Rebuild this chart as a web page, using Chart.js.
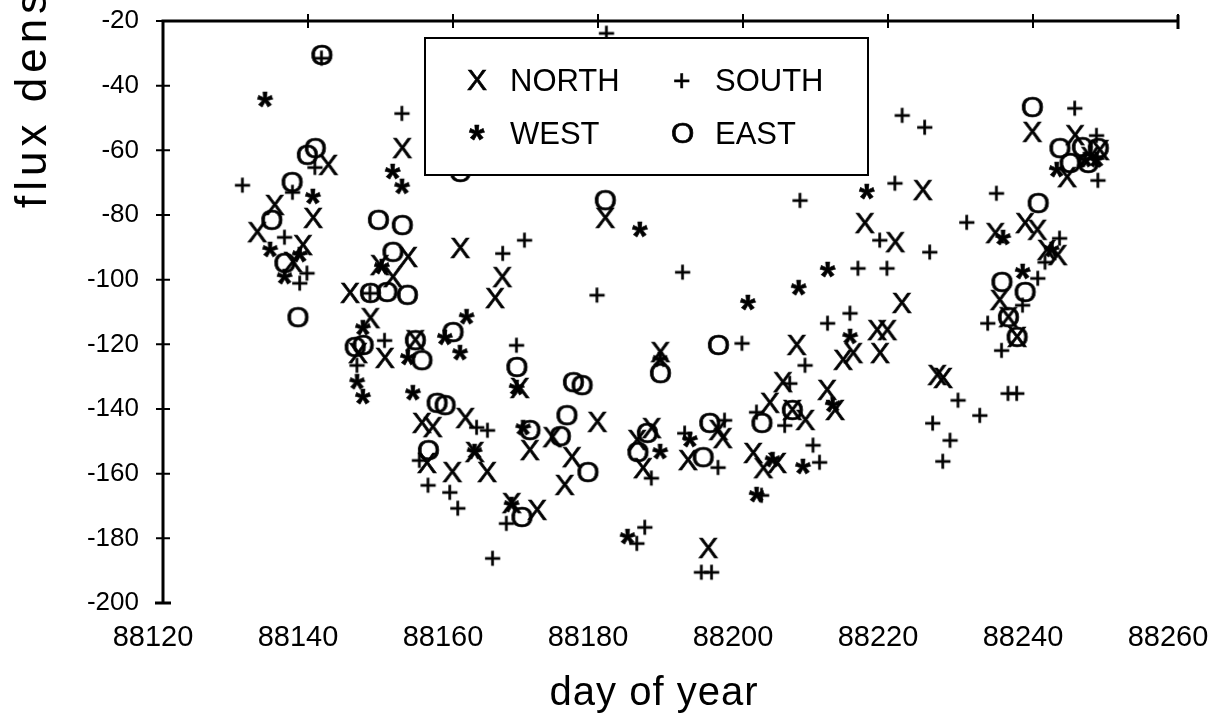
<!DOCTYPE html>
<html>
<head>
<meta charset="utf-8">
<script src="https://cdn.jsdelivr.net/npm/chart.js@4.4.1/dist/chart.umd.min.js"></script>
<style>
  html, body { margin: 0; padding: 0; background: #fff; }
  canvas { display: block; }
</style>
</head>
<body>
<canvas id="flux" width="1231" height="717"></canvas>
<script>
const FONT = '"Liberation Sans", Arial, Helvetica, sans-serif';

const xTicks = [88120, 88140, 88160, 88180, 88200, 88220, 88240, 88260];
const yTicks = [-200, -180, -160, -140, -120, -100, -80, -60, -40, -20];

// [day, flux] pairs per antenna direction
const north = [
  [88133.0, -85.3], [88135.4, -76.9], [88137.9, -94.5], [88139.3, -89.3], [88140.7, -80.9], [88142.8, -64.5],
  [88145.8, -104.1], [88146.9, -122.7], [88148.6, -111.9], [88149.9, -95.5], [88150.6, -124.2], [88151.7, -99.2],
  [88153.0, -59.3], [88153.8, -93.0], [88154.8, -118.7], [88155.7, -144.3], [88156.4, -156.7], [88157.2, -145.6],
  [88159.9, -159.5], [88161.0, -90.2], [88161.7, -142.8], [88163.0, -153.3], [88164.7, -159.5], [88165.8, -105.7],
  [88166.8, -99.2], [88168.1, -169.1], [88169.2, -133.5], [88170.6, -152.7], [88171.6, -171.2], [88173.7, -148.7],
  [88175.4, -163.5], [88176.4, -154.9], [88179.9, -144.0], [88181.0, -80.9], [88185.4, -149.6], [88186.2, -158.3],
  [88187.4, -145.9], [88188.6, -122.4], [88192.4, -155.8], [88195.2, -183.0], [88196.6, -146.5], [88197.2, -149.0],
  [88201.4, -153.6], [88202.8, -158.3], [88203.7, -138.1], [88204.7, -156.7], [88205.5, -131.7], [88206.8, -140.3],
  [88207.4, -120.2], [88208.6, -143.4], [88211.6, -134.1], [88212.7, -140.3], [88213.8, -124.8], [88215.2, -122.7],
  [88216.8, -82.5], [88218.5, -115.6], [88218.9, -122.7], [88219.9, -115.6], [88221.0, -88.4], [88221.9, -107.2],
  [88224.8, -72.3], [88226.8, -129.5], [88227.6, -130.4], [88234.8, -85.6], [88235.4, -106.3], [88236.6, -111.6],
  [88237.8, -117.7], [88238.9, -82.5], [88239.9, -54.3], [88240.6, -84.6], [88241.9, -90.8], [88243.4, -92.4],
  [88244.7, -68.3], [88245.8, -55.3], [88247.9, -62.1], [88249.2, -59.9]
];

const south = [
  [88131.0, -70.7], [88136.8, -86.8], [88137.9, -72.9], [88138.9, -101.0], [88139.9, -97.9], [88141.0, -65.2],
  [88141.9, -31.4], [88146.8, -126.4], [88148.6, -104.1], [88150.6, -118.7], [88153.0, -48.5], [88155.4, -155.8],
  [88156.6, -163.5], [88159.6, -165.7], [88160.7, -170.6], [88163.3, -145.6], [88164.8, -146.5], [88165.5, -186.1],
  [88166.9, -91.8], [88167.4, -175.3], [88168.8, -120.2], [88169.9, -87.7], [88179.9, -104.7], [88181.2, -23.7],
  [88185.4, -181.5], [88186.5, -176.5], [88187.4, -161.3], [88191.7, -97.6], [88192.0, -147.4], [88194.3, -190.4],
  [88195.7, -190.4], [88196.6, -158.0], [88197.5, -143.4], [88199.9, -119.6], [88201.9, -140.9], [88202.6, -166.6],
  [88205.8, -145.0], [88206.5, -132.0], [88207.9, -75.4], [88208.6, -126.4], [88209.7, -151.1], [88210.6, -156.4],
  [88211.7, -113.4], [88214.8, -110.3], [88215.9, -96.4], [88218.9, -87.7], [88219.9, -96.4], [88221.0, -70.1],
  [88222.0, -49.1], [88225.1, -52.8], [88225.8, -91.4], [88226.2, -144.3], [88227.6, -156.1], [88228.6, -149.6],
  [88229.7, -137.2], [88230.9, -82.2], [88232.7, -141.9], [88233.8, -113.4], [88235.0, -73.2], [88235.7, -121.8],
  [88236.6, -135.1], [88237.8, -135.1], [88238.6, -107.8], [88240.7, -99.5], [88241.7, -94.5], [88243.7, -87.1],
  [88245.8, -46.9], [88248.8, -55.3], [88249.0, -69.2]
];

const west = [
  [88134.1, -44.4], [88134.8, -90.8], [88136.8, -99.2], [88138.9, -92.4], [88140.7, -74.4], [88146.8, -131.7],
  [88147.6, -115.0], [88147.6, -136.3], [88150.2, -96.1], [88151.7, -66.7], [88153.0, -71.3], [88153.8, -124.2],
  [88154.5, -135.1], [88158.9, -118.0], [88161.0, -122.7], [88161.9, -111.6], [88163.0, -153.3], [88168.1, -169.7],
  [88168.8, -133.5], [88169.7, -145.9], [88184.1, -179.6], [88185.8, -84.6], [88188.6, -124.8], [88188.6, -153.3],
  [88192.7, -149.6], [88200.7, -107.2], [88201.9, -166.6], [88204.1, -155.8], [88207.7, -102.6], [88208.3, -157.9],
  [88211.7, -97.0], [88212.4, -138.8], [88214.8, -117.7], [88217.1, -72.9], [88235.9, -87.1], [88238.6, -97.6],
  [88242.6, -90.8], [88243.3, -66.1], [88247.2, -63.0], [88248.8, -63.0]
];

const east = [
  [88135.0, -81.5], [88136.8, -94.8], [88137.8, -69.8], [88138.6, -111.6], [88139.9, -61.4], [88141.0, -59.3],
  [88141.9, -30.5], [88146.5, -120.8], [88147.6, -120.2], [88148.6, -104.1], [88149.7, -81.5], [88150.9, -103.8],
  [88151.7, -91.4], [88153.0, -83.1], [88153.7, -104.7], [88154.8, -118.7], [88155.7, -124.9], [88156.6, -152.7],
  [88157.8, -138.1], [88158.9, -138.8], [88160.0, -116.2], [88161.0, -66.7], [88168.8, -127.0], [88169.5, -173.4],
  [88170.6, -146.5], [88174.8, -148.4], [88175.7, -141.9], [88176.6, -131.7], [88177.8, -132.6], [88178.6, -159.5],
  [88181.0, -75.4], [88185.5, -153.3], [88186.8, -147.4], [88188.6, -128.9], [88194.5, -154.9], [88195.4, -144.3],
  [88196.6, -120.2], [88202.6, -144.3], [88206.8, -140.3], [88235.7, -100.7], [88236.6, -111.6], [88237.8, -117.7],
  [88238.9, -103.8], [88239.9, -46.6], [88240.7, -76.3], [88243.7, -59.3], [88245.1, -63.9], [88246.8, -59.0],
  [88247.6, -63.9], [88249.0, -59.3]
];

// Markers are plain typed characters, rendered once into small canvases
// with the glyph's ink box centred so it sits right on the data point.
function glyph(ch, font, thicken) {
  const probe = document.createElement('canvas').getContext('2d');
  probe.font = font;
  const m = probe.measureText(ch);
  const pad = 3;
  const w = Math.ceil(m.actualBoundingBoxLeft + m.actualBoundingBoxRight) + pad * 2;
  const h = Math.ceil(m.actualBoundingBoxAscent + m.actualBoundingBoxDescent) + pad * 2;
  const c = document.createElement('canvas');
  c.width = w;
  c.height = h;
  const ctx = c.getContext('2d');
  ctx.font = font;
  ctx.fillStyle = '#000';
  ctx.strokeStyle = '#000';
  ctx.lineWidth = thicken;
  const x = pad + m.actualBoundingBoxLeft;
  const y = pad + m.actualBoundingBoxAscent;
  ctx.fillText(ch, x, y);
  if (thicken > 0) ctx.strokeText(ch, x, y);
  return c;
}

const series = [
  { label: 'NORTH', points: north, mark: glyph('X', `30px ${FONT}`, 0.7) },
  { label: 'SOUTH', points: south, mark: glyph('+', `30px ${FONT}`, 0.6) },
  { label: 'WEST', points: west, mark: glyph('*', `bold 40px ${FONT}`, 0.5) },
  { label: 'EAST', points: east, mark: glyph('O', `30px ${FONT}`, 0.7) }
];

// left axis + top axis with ticks crossing the lines, no bottom frame
const axisFrame = {
  id: 'axisFrame',
  beforeDatasetsDraw(chart) {
    const { ctx, chartArea: a, scales: { x, y } } = chart;
    ctx.save();
    ctx.strokeStyle = '#000';
    ctx.lineCap = 'butt';
    ctx.lineWidth = 3;
    ctx.beginPath();
    ctx.moveTo(a.left, a.bottom + 1);
    ctx.lineTo(a.left, a.top);
    ctx.lineTo(a.right, a.top);
    ctx.stroke();

    ctx.lineWidth = 2;
    ctx.beginPath();
    yTicks.forEach(v => {
      const py = y.getPixelForValue(v);
      ctx.moveTo(a.left - 7, py);
      ctx.lineTo(a.left + 7, py);
    });
    xTicks.slice(1).forEach(v => {
      const px = x.getPixelForValue(v);
      ctx.moveTo(px, a.top - 7);
      ctx.lineTo(px, a.top + 7);
    });
    ctx.stroke();

    ctx.lineWidth = 3;
    ctx.beginPath();
    ctx.moveTo(a.left - 8, a.bottom);
    ctx.lineTo(a.left + 8, a.bottom);
    ctx.moveTo(a.right, a.top - 6);
    ctx.lineTo(a.right, a.top + 8);
    ctx.stroke();
    ctx.restore();
  }
};

// boxed two-column key drawn over the points
const boxLegend = {
  id: 'boxLegend',
  afterDatasetsDraw(chart, args, o) {
    const { ctx } = chart;
    ctx.save();
    ctx.fillStyle = '#fff';
    ctx.fillRect(o.left, o.top, o.width, o.height);
    ctx.strokeStyle = '#000';
    ctx.lineWidth = 2;
    ctx.strokeRect(o.left, o.top, o.width, o.height);

    ctx.font = `31px ${FONT}`;
    ctx.fillStyle = '#000';
    ctx.textAlign = 'left';
    ctx.textBaseline = 'alphabetic';
    chart.data.datasets.forEach((ds, i) => {
      const cx = o.left + o.markX + (i % 2) * o.colGap;
      const cy = o.top + o.rowY + Math.floor(i / 2) * o.rowGap;
      const img = ds.pointStyle;
      ctx.drawImage(img, Math.round(cx - img.width / 2), Math.round(cy - img.height / 2));
      ctx.fillText(ds.label, cx + o.textGap, cy + 11);
    });
    ctx.restore();
  }
};

// axis captions: the vertical one starts low on the left edge and runs off the top
const captions = {
  id: 'captions',
  afterDraw(chart, args, o) {
    const { ctx } = chart;
    ctx.save();
    ctx.fillStyle = '#000';
    ctx.textBaseline = 'alphabetic';
    o.items.forEach(c => {
      ctx.save();
      ctx.translate(c.x, c.y);
      ctx.rotate(c.angle);
      ctx.font = `${c.size}px ${FONT}`;
      if ('letterSpacing' in ctx) ctx.letterSpacing = c.spacing + 'px';
      ctx.textAlign = c.align;
      ctx.fillText(c.text, 0, 0);
      ctx.restore();
    });
    ctx.restore();
  }
};

new Chart(document.getElementById('flux'), {
  type: 'scatter',
  data: {
    datasets: series.map(s => ({
      label: s.label,
      data: s.points.map(([x, y]) => ({ x, y })),
      pointStyle: s.mark,
      pointRadius: 10,
      pointHoverRadius: 10
    }))
  },
  options: {
    responsive: false,
    animation: false,
    devicePixelRatio: 1,
    events: [],
    layout: { padding: { top: 21, right: 53, left: 0, bottom: 0 } },
    plugins: {
      legend: { display: false },
      tooltip: { enabled: false },
      boxLegend: { left: 425, top: 38, width: 443, height: 137, markX: 52, colGap: 205, rowY: 42, rowGap: 53, textGap: 33 },
      captions: {
        items: [
          { text: 'flux density', x: 46, y: 208, angle: -Math.PI / 2, size: 44, spacing: 5, align: 'left' },
          { text: 'day of year', x: 654, y: 705, angle: 0, size: 40, spacing: 1, align: 'center' }
        ]
      }
    },
    scales: {
      x: {
        type: 'linear',
        min: 88120,
        max: 88260,
        afterBuildTicks: s => { s.ticks = xTicks.map(value => ({ value })); },
        afterFit: s => {
          s.height = 114;
          s.paddingLeft = 0;
          s.paddingRight = 0;
        },
        grid: { display: false, drawTicks: false },
        border: { display: false },
        ticks: {
          color: '#000',
          font: { family: FONT, size: 29 },
          padding: 18,
          labelOffset: -10,
          maxRotation: 0,
          autoSkip: false,
          callback: v => String(v)
        }
      },
      y: {
        min: -200,
        max: -20,
        afterBuildTicks: s => { s.ticks = yTicks.map(value => ({ value })); },
        afterFit: s => {
          s.width = 163;
          s.paddingTop = 0;
          s.paddingBottom = 0;
        },
        grid: { display: false, drawTicks: false },
        border: { display: false },
        ticks: {
          color: '#000',
          font: { family: FONT, size: 26 },
          padding: 24,
          autoSkip: false,
          callback: v => String(v)
        }
      }
    }
  },
  plugins: [axisFrame, boxLegend, captions]
});
</script>
</body>
</html>
